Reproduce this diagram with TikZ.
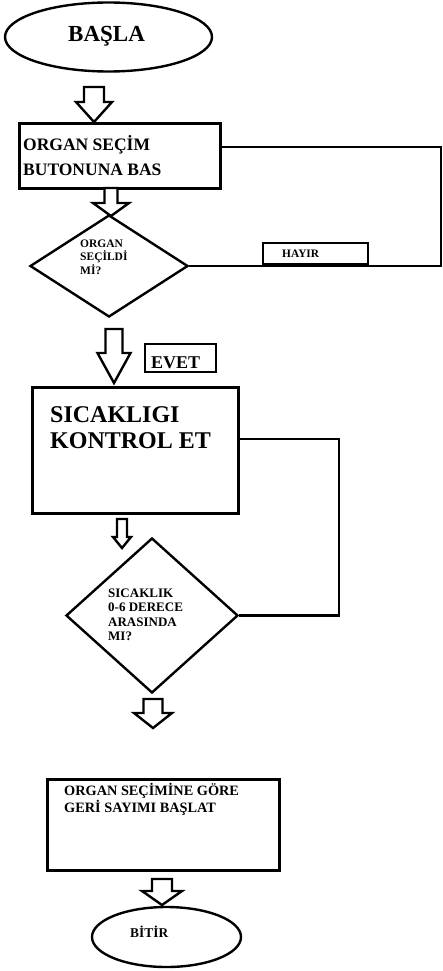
\documentclass[tikz,border=0pt]{standalone}
\usepackage{fontspec}
\setmainfont{Liberation Serif}
\usetikzlibrary{shapes.geometric}
\tikzset{
  terminal/.style={draw=black, line width=2.4pt, ellipse, inner sep=0pt},
  procbox/.style={draw=black, line width=3pt, rectangle, inner sep=0pt},
  decision/.style={draw=black, line width=2.4pt, diamond, inner sep=0pt},
  tagbox/.style={draw=black, line width=2.6pt, rectangle, inner sep=0pt},
  flowline/.style={draw=black, line width=2.4pt, line join=miter},
  blockarrow/.style={draw=black, line width=2.4pt, fill=white, line join=miter},
  txt/.style={font=\bfseries, inner sep=0pt, anchor=base west},
}
% name, x, first baseline, line step, font size, lines
\newcommand{\TextLines}[6]{%
  \foreach \t [count=\i] in {#6} {
    \node[txt, font=\bfseries\fontsize{#5}{#5}\selectfont] (#1\i) at (#2,{#3+(\i-1)*#4}) {\t};
  }
}

\begin{document}
\begin{tikzpicture}[x=1pt, y=-1pt]
  \useasboundingbox (0,0) rectangle (443,971);
  \coordinate (sagA) at (441,0);
  \coordinate (sagB) at (339,0);

  \node[terminal, minimum width=207pt, minimum height=69pt] (basla) at (108.5,37) {};
  \node[procbox, minimum width=201pt, minimum height=64pt] (secim) at (119.5,156) {};
  \node[decision, minimum width=158pt, minimum height=102pt] (karar1) at (109,266) {};
  \node[tagbox, minimum width=105pt, minimum height=21pt] (hayir) at (315.5,253.5) {};
  \node[tagbox, minimum width=71pt, minimum height=28pt] (evet) at (180.5,358) {};
  \node[procbox, minimum width=206pt, minimum height=126pt] (kontrol) at (135,450) {};
  \node[decision, minimum width=172pt, minimum height=155pt] (karar2) at (152,615.5) {};
  \node[procbox, minimum width=232pt, minimum height=91pt] (sayim) at (163,824.5) {};
  \node[terminal, minimum width=149pt, minimum height=60pt] (bitir) at (166.5,937) {};

  \draw[flowline] (karar1.east) -- (karar1.east -| sagA) |- ([yshift=9pt]secim.east);
  \draw[flowline] (karar2.east) -- (karar2.east -| sagB) |- ([yshift=11pt]kontrol.east);

  \foreach \c/\t/\h/\b/\s/\w in {94/87/102/122/10/18, 111/188/203/216/6.5/18,
      114/329/353/383/8.5/16.5, 122/519/537/548/5/9, 153/699/713/728/9.5/19, 162/879/891/905/10/20}
    \draw[blockarrow] ({\c-\s},\t) -- ({\c+\s},\t) -- ({\c+\s},\h) -- ({\c+\w},\h)
      -- (\c,\b) -- ({\c-\w},\h) -- ({\c-\s},\h) -- cycle;

  \TextLines{tBasla}{68}{42}{0}{23}{BAŞLA}
  \TextLines{tSecim}{23}{150}{25}{17.5}{ORGAN SEÇİM, BUTONUNA BAS}
  \TextLines{tKarar}{80}{247}{13.5}{11.5}{ORGAN, SEÇİLDİ, Mİ?}
  \TextLines{tHayir}{282}{257}{0}{11.4}{HAYIR}
  \TextLines{tEvet}{151}{368}{0}{18}{EVET}
  \TextLines{tKontrol}{50}{422}{26}{24}{SICAKLIGI, KONTROL ET}
  \TextLines{tAralik}{108}{597}{14.5}{13}{SICAKLIK, 0-6 DERECE, ARASINDA, MI?}
  \TextLines{tSayim}{64}{795}{17}{14.3}{ORGAN SEÇİMİNE GÖRE, GERİ SAYIMI BAŞLAT}
  \TextLines{tBitir}{130}{937}{0}{13.4}{BİTİR}
\end{tikzpicture}
\end{document}
